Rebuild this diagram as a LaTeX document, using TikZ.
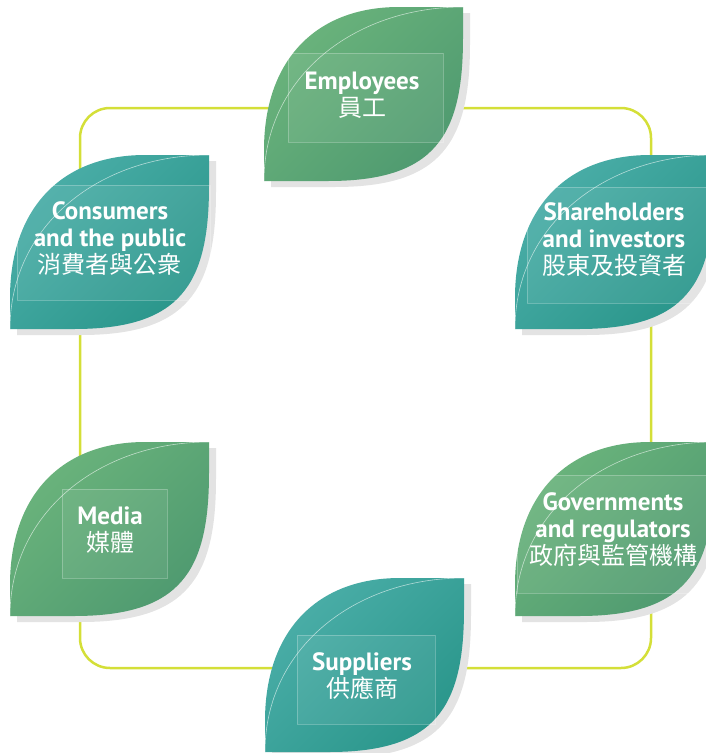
\documentclass[tikz,border=0pt]{standalone}
\usepackage{fontspec}
\setmainfont{PT Sans}
\newfontfamily\cjk{Noto Sans CJK TC}
\definecolor{loopline}{HTML}{D4DF38}
\definecolor{grnA}{HTML}{6BB47C}
\definecolor{grnB}{HTML}{66B75C}
\definecolor{grnC}{HTML}{4F9A70}
\definecolor{tealA}{HTML}{4BAEA8}
\definecolor{tealB}{HTML}{25A596}
\definecolor{tealC}{HTML}{2A968B}
\tikzset{
grnleaf/.style={top color=grnA,middle color=grnB,bottom color=grnC,shading angle=45},
tealleaf/.style={top color=tealA,middle color=tealB,bottom color=tealC,shading angle=45},
label/.style={text=white,align=center,font=\bfseries\fontsize{25}{27}\selectfont}
}
\newcommand\zh[1]{{\cjk\mdseries\fontsize{24}{27}\selectfont #1}}
\begin{document}
\begin{tikzpicture}[x=1pt,y=-1pt]
\clip (0,0) rectangle (706,753);
\path
(264,7) coordinate (emp)
(10,155) coordinate (con)
(515,155) coordinate (sha)
(10,442) coordinate (med)
(515,442) coordinate (gov)
(265,578) coordinate (sup)
(80,108) coordinate (L1)
(651,668) coordinate (L2);
\draw[loopline,line width=2.5pt,rounded corners=30pt] (L1) rectangle (L2);
\foreach \t/\c/\ra/\rb in {emp/grnleaf/{(24,46)}/{(179,135)},con/tealleaf/{(7,30)}/{(200,145)},sha/tealleaf/{(12,32)}/{(191,148)},med/grnleaf/{(52,47)}/{(157,136)},gov/grnleaf/{(2,33)}/{(191,151)},sup/tealleaf/{(32,57)}/{(170,146)}}{
\begin{scope}[shift={(\t)}]
\fill[black!11,shift={(7,6)}] (0,174) -- (0,143) .. controls (0,54) and (51,0) .. (135,0) -- (199,0) -- (199,31) .. controls (199,130) and (170,174) .. (64,174) -- cycle;
\shade[\c] (0,174) -- (0,143) .. controls (0,54) and (51,0) .. (135,0) -- (199,0) -- (199,31) .. controls (199,130) and (170,174) .. (64,174) -- cycle;
\draw[white,opacity=0.6,line width=0.6pt] (0,174) .. controls (0,70) and (90,0) .. (199,0);
\draw[white,opacity=0.25,fill=white,fill opacity=0.07,line width=0.5pt] \ra rectangle \rb;
\end{scope}
}
\node[label] (empt) at (362,95) {Employees\\\zh{員工}};
\node[label] (cont) at (110,239) {Consumers\\and the public\\\zh{消費者與公衆}};
\node[label] (shat) at (614,240) {Shareholders\\and investors\\\zh{股東及投資者}};
\node[label] (medt) at (110,530) {Media\\\zh{媒體}};
\node[label] (govt) at (613,530) {Governments\\and regulators\\\zh{政府與監管機構}};
\node[label] (supt) at (362,676) {Suppliers\\\zh{供應商}};
\end{tikzpicture}
\end{document}
